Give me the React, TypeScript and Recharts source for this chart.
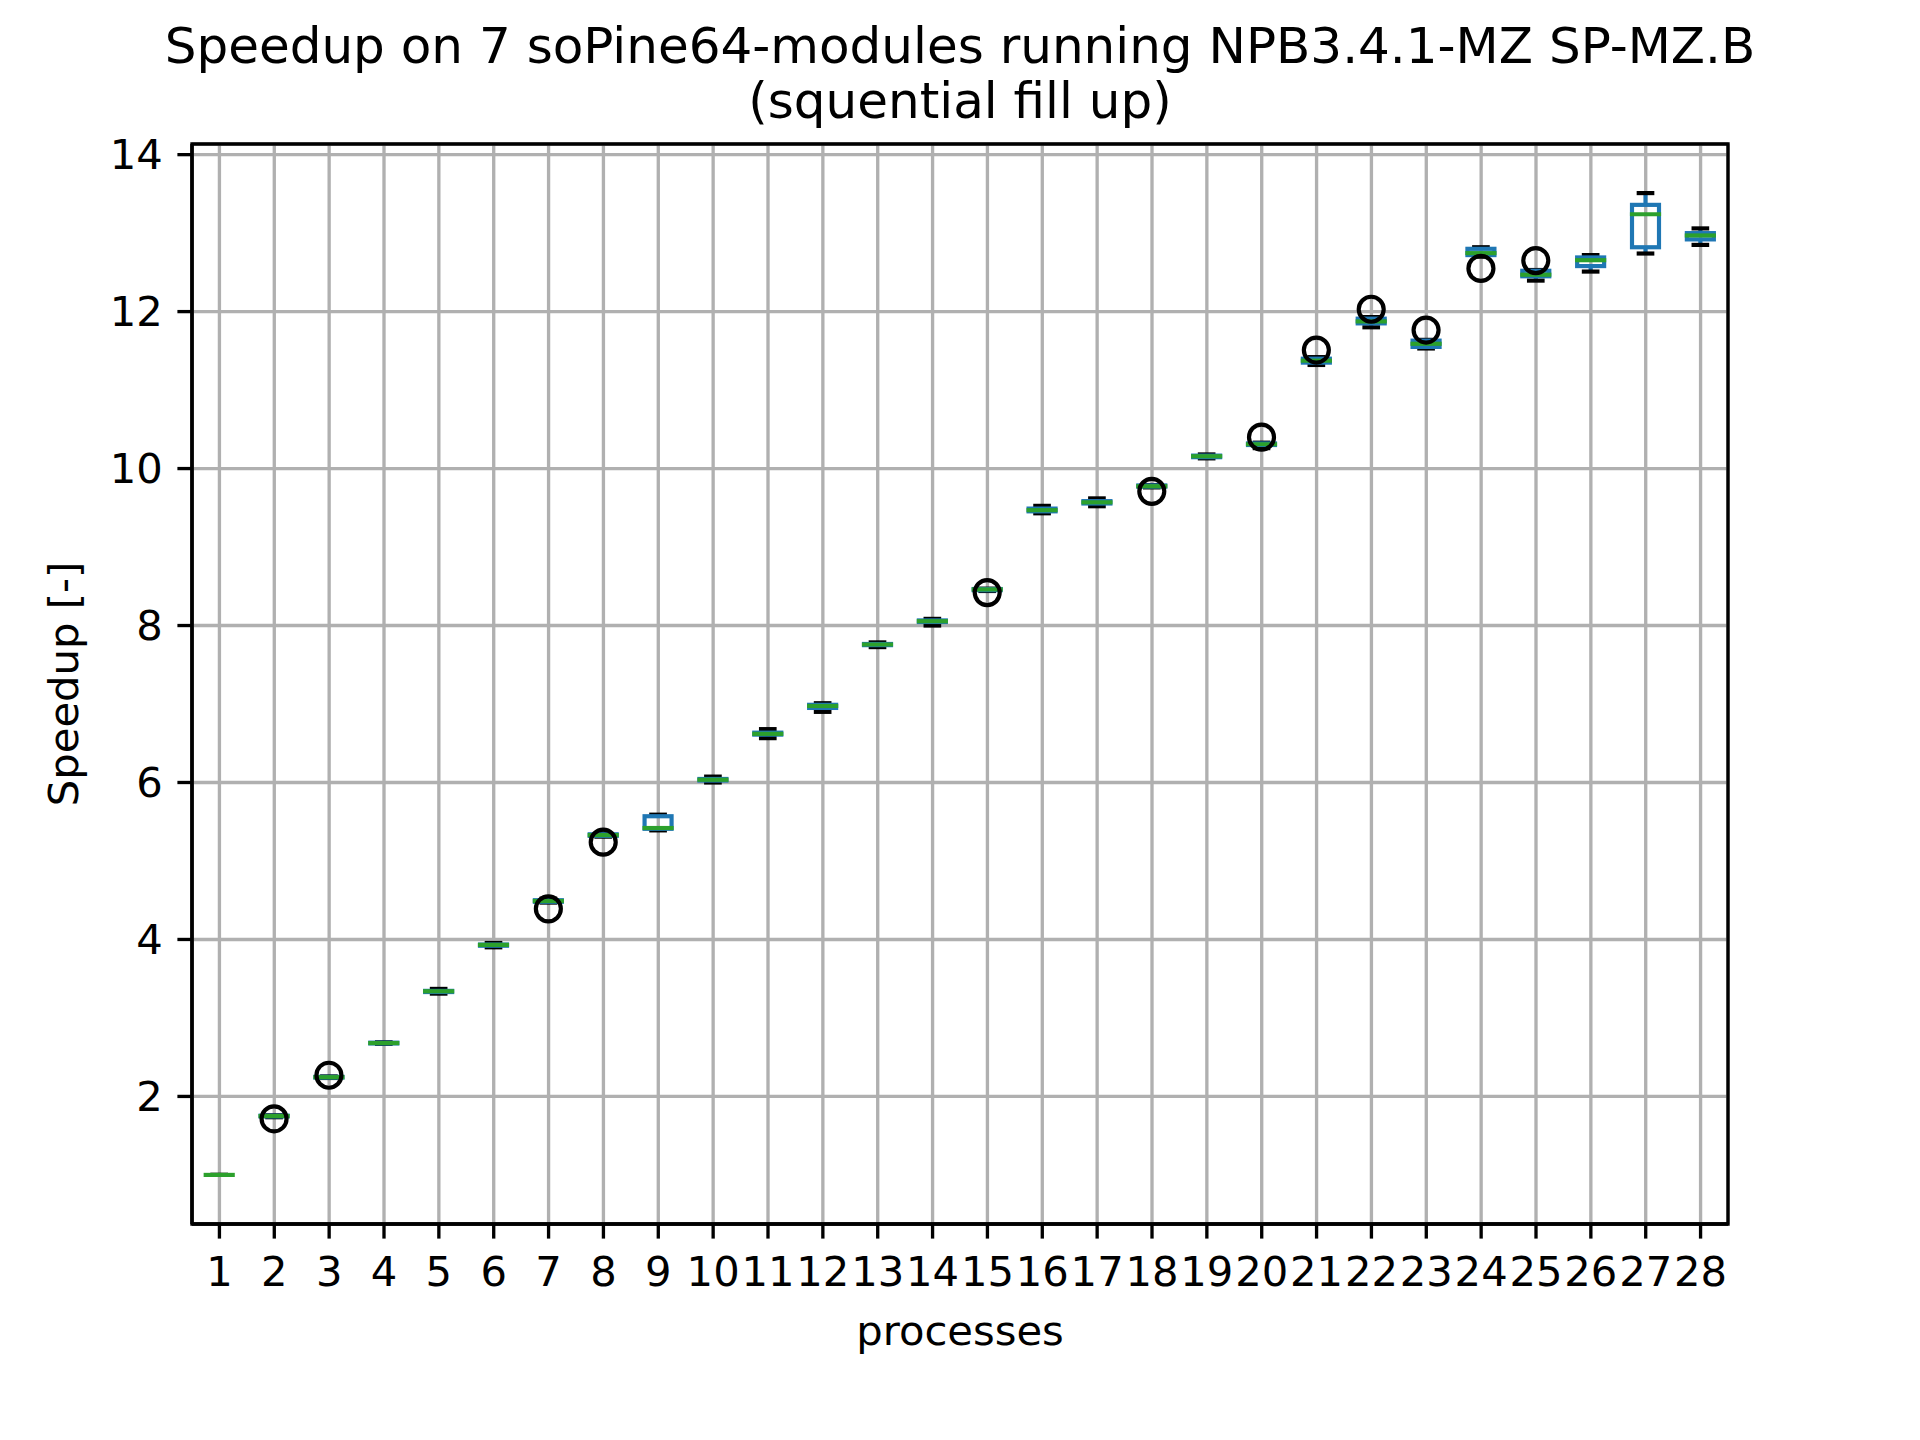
import React from "react";
import { Bar, CartesianGrid, ComposedChart, ReferenceArea, XAxis, YAxis } from "recharts";

const processes = [
  "1", "2", "3", "4", "5", "6", "7", "8", "9", "10", "11", "12", "13", "14",
  "15", "16", "17", "18", "19", "20", "21", "22", "23", "24", "25", "26", "27", "28",
];

// whisker ends, quartiles and medians
const lowWhisker = [
  1.0, 1.735, 2.235, 2.67, 3.31, 3.9, 4.47, 5.31, 5.39, 6.0, 6.565, 6.9, 7.725, 8.0,
  8.44, 9.43, 9.52, 9.76, 10.13, 10.26, 11.32, 11.8, 11.53, 12.7, 12.395, 12.51, 12.74, 12.85,
];
const lowerQuartile = [
  1.0, 1.745, 2.24, 2.675, 3.33, 3.92, 4.48, 5.32, 5.41, 6.025, 6.61, 6.95, 7.75, 8.045,
  8.45, 9.455, 9.555, 9.77, 10.145, 10.3, 11.35, 11.85, 11.55, 12.72, 12.45, 12.58, 12.82, 12.92,
];
const median = [
  1.0, 1.75, 2.245, 2.68, 3.34, 3.93, 4.49, 5.33, 5.42, 6.035, 6.62, 6.975, 7.758, 8.055,
  8.46, 9.47, 9.57, 9.775, 10.157, 10.31, 11.375, 11.875, 11.59, 12.745, 12.47, 12.655, 13.24, 12.97,
];
const upperQuartile = [
  1.0, 1.755, 2.25, 2.685, 3.345, 3.935, 4.5, 5.34, 5.57, 6.045, 6.635, 6.99, 7.765, 8.065,
  8.465, 9.49, 9.585, 9.785, 10.165, 10.32, 11.4, 11.91, 11.63, 12.8, 12.52, 12.69, 13.36, 13.0,
];
const highWhisker = [
  1.0, 1.76, 2.255, 2.69, 3.37, 3.955, 4.52, 5.35, 5.59, 6.075, 6.68, 7.01, 7.785, 8.085,
  8.47, 9.525, 9.62, 9.79, 10.18, 10.33, 11.42, 11.93, 11.64, 12.82, 12.53, 12.72, 13.51, 13.06,
];
const outliers: number[][] = [
  [], [1.715], [2.27], [], [], [], [4.39], [5.24], [], [], [], [], [], [],
  [8.42], [], [], [9.71], [], [10.4], [11.51], [12.03], [11.765], [12.55], [12.65], [], [], [],
];

const yTicks = [2, 4, 6, 8, 10, 12, 14];

const rows = processes.map((p, i) => {
  const all = [lowWhisker[i], highWhisker[i], ...outliers[i]];
  return {
    p,
    lo: lowWhisker[i],
    q1: lowerQuartile[i],
    med: median[i],
    q3: upperQuartile[i],
    hi: highWhisker[i],
    fliers: outliers[i],
    range: [Math.min(...all), Math.max(...all)],
  };
});

const dataMin = Math.min(...rows.map((r) => r.range[0]));
const dataMax = Math.max(...rows.map((r) => r.range[1]));
const pad = (dataMax - dataMin) * 0.05;
const yDomain = [dataMin - pad, dataMax + pad];

const BLUE = "#1f77b4";
const GREEN = "#2ca02c";
const LW = 4.17;
const FONT = "DejaVu Sans, sans-serif";

const BoxShape = (props: any) => {
  const { x, y, width, height, payload } = props;
  if (!payload) return null;
  const [a, b] = payload.range;
  const py = (v: number) => (b === a ? y : y + ((b - v) / (b - a)) * height);
  const cx = x + width / 2;
  const cap = width / 4;
  return (
    <g>
      <line x1={cx} x2={cx} y1={py(payload.lo)} y2={py(payload.q1)} stroke={BLUE} strokeWidth={LW} />
      <line x1={cx} x2={cx} y1={py(payload.q3)} y2={py(payload.hi)} stroke={BLUE} strokeWidth={LW} />
      <line x1={cx - cap} x2={cx + cap} y1={py(payload.lo)} y2={py(payload.lo)} stroke="#000" strokeWidth={LW} strokeLinecap="square" />
      <line x1={cx - cap} x2={cx + cap} y1={py(payload.hi)} y2={py(payload.hi)} stroke="#000" strokeWidth={LW} strokeLinecap="square" />
      <rect
        x={x}
        y={py(payload.q3)}
        width={width}
        height={py(payload.q1) - py(payload.q3)}
        fill="none"
        stroke={BLUE}
        strokeWidth={LW}
        strokeLinejoin="miter"
      />
      <line x1={x} x2={x + width} y1={py(payload.med)} y2={py(payload.med)} stroke={GREEN} strokeWidth={LW} strokeLinecap="square" />
      {payload.fliers.map((v: number, k: number) => (
        <circle key={k} cx={cx} cy={py(v)} r={12.5} fill="none" stroke="#000" strokeWidth={LW} />
      ))}
    </g>
  );
};

const tickStyle = { fontSize: 41.7, fill: "#000", fontFamily: FONT };
const axisStroke = { stroke: "#000", strokeWidth: 3.33 };

export default function App() {
  return (
    <div style={{ position: "absolute", left: 0, top: 0, width: 1920, height: 1440, background: "#fff" }}>
      <ComposedChart
        width={1920}
        height={1440}
        data={rows}
        margin={{ top: 144, right: 192, bottom: 156, left: 92 }}
        barCategoryGap="25%"
      >
        <CartesianGrid stroke="#b0b0b0" strokeWidth={3.33} />
        <XAxis
          dataKey="p"
          interval={0}
          height={60}
          tickSize={14.6}
          tickMargin={18}
          tick={tickStyle}
          axisLine={axisStroke}
          tickLine={axisStroke}
        />
        <YAxis
          type="number"
          domain={yDomain}
          ticks={yTicks}
          allowDataOverflow
          width={100}
          tickSize={14.6}
          tickMargin={14.6}
          tick={tickStyle}
          axisLine={axisStroke}
          tickLine={axisStroke}
        />
        <ReferenceArea
          x1={processes[0]}
          x2={processes[processes.length - 1]}
          y1={yDomain[0]}
          y2={yDomain[1]}
          fill="none"
          fillOpacity={0}
          stroke="#000"
          strokeWidth={3.33}
          strokeOpacity={1}
          ifOverflow="visible"
        />
        <Bar dataKey="range" shape={BoxShape} isAnimationActive={false} />
      </ComposedChart>
      <svg
        width={1920}
        height={1440}
        style={{ position: "absolute", left: 0, top: 0, pointerEvents: "none" }}
        fontFamily={FONT}
      >
        <text x={960} y={63} fontSize={50} textAnchor="middle" fill="#000">
          Speedup on 7 soPine64-modules running NPB3.4.1-MZ SP-MZ.B
        </text>
        <text x={960} y={118} fontSize={50} textAnchor="middle" fill="#000">
          (squential fill up)
        </text>
        <text x={960} y={1345} fontSize={41.7} textAnchor="middle" fill="#000">
          processes
        </text>
        <text x={78} y={684} fontSize={41.7} textAnchor="middle" fill="#000" transform="rotate(-90 78 684)">
          Speedup [-]
        </text>
      </svg>
    </div>
  );
}
